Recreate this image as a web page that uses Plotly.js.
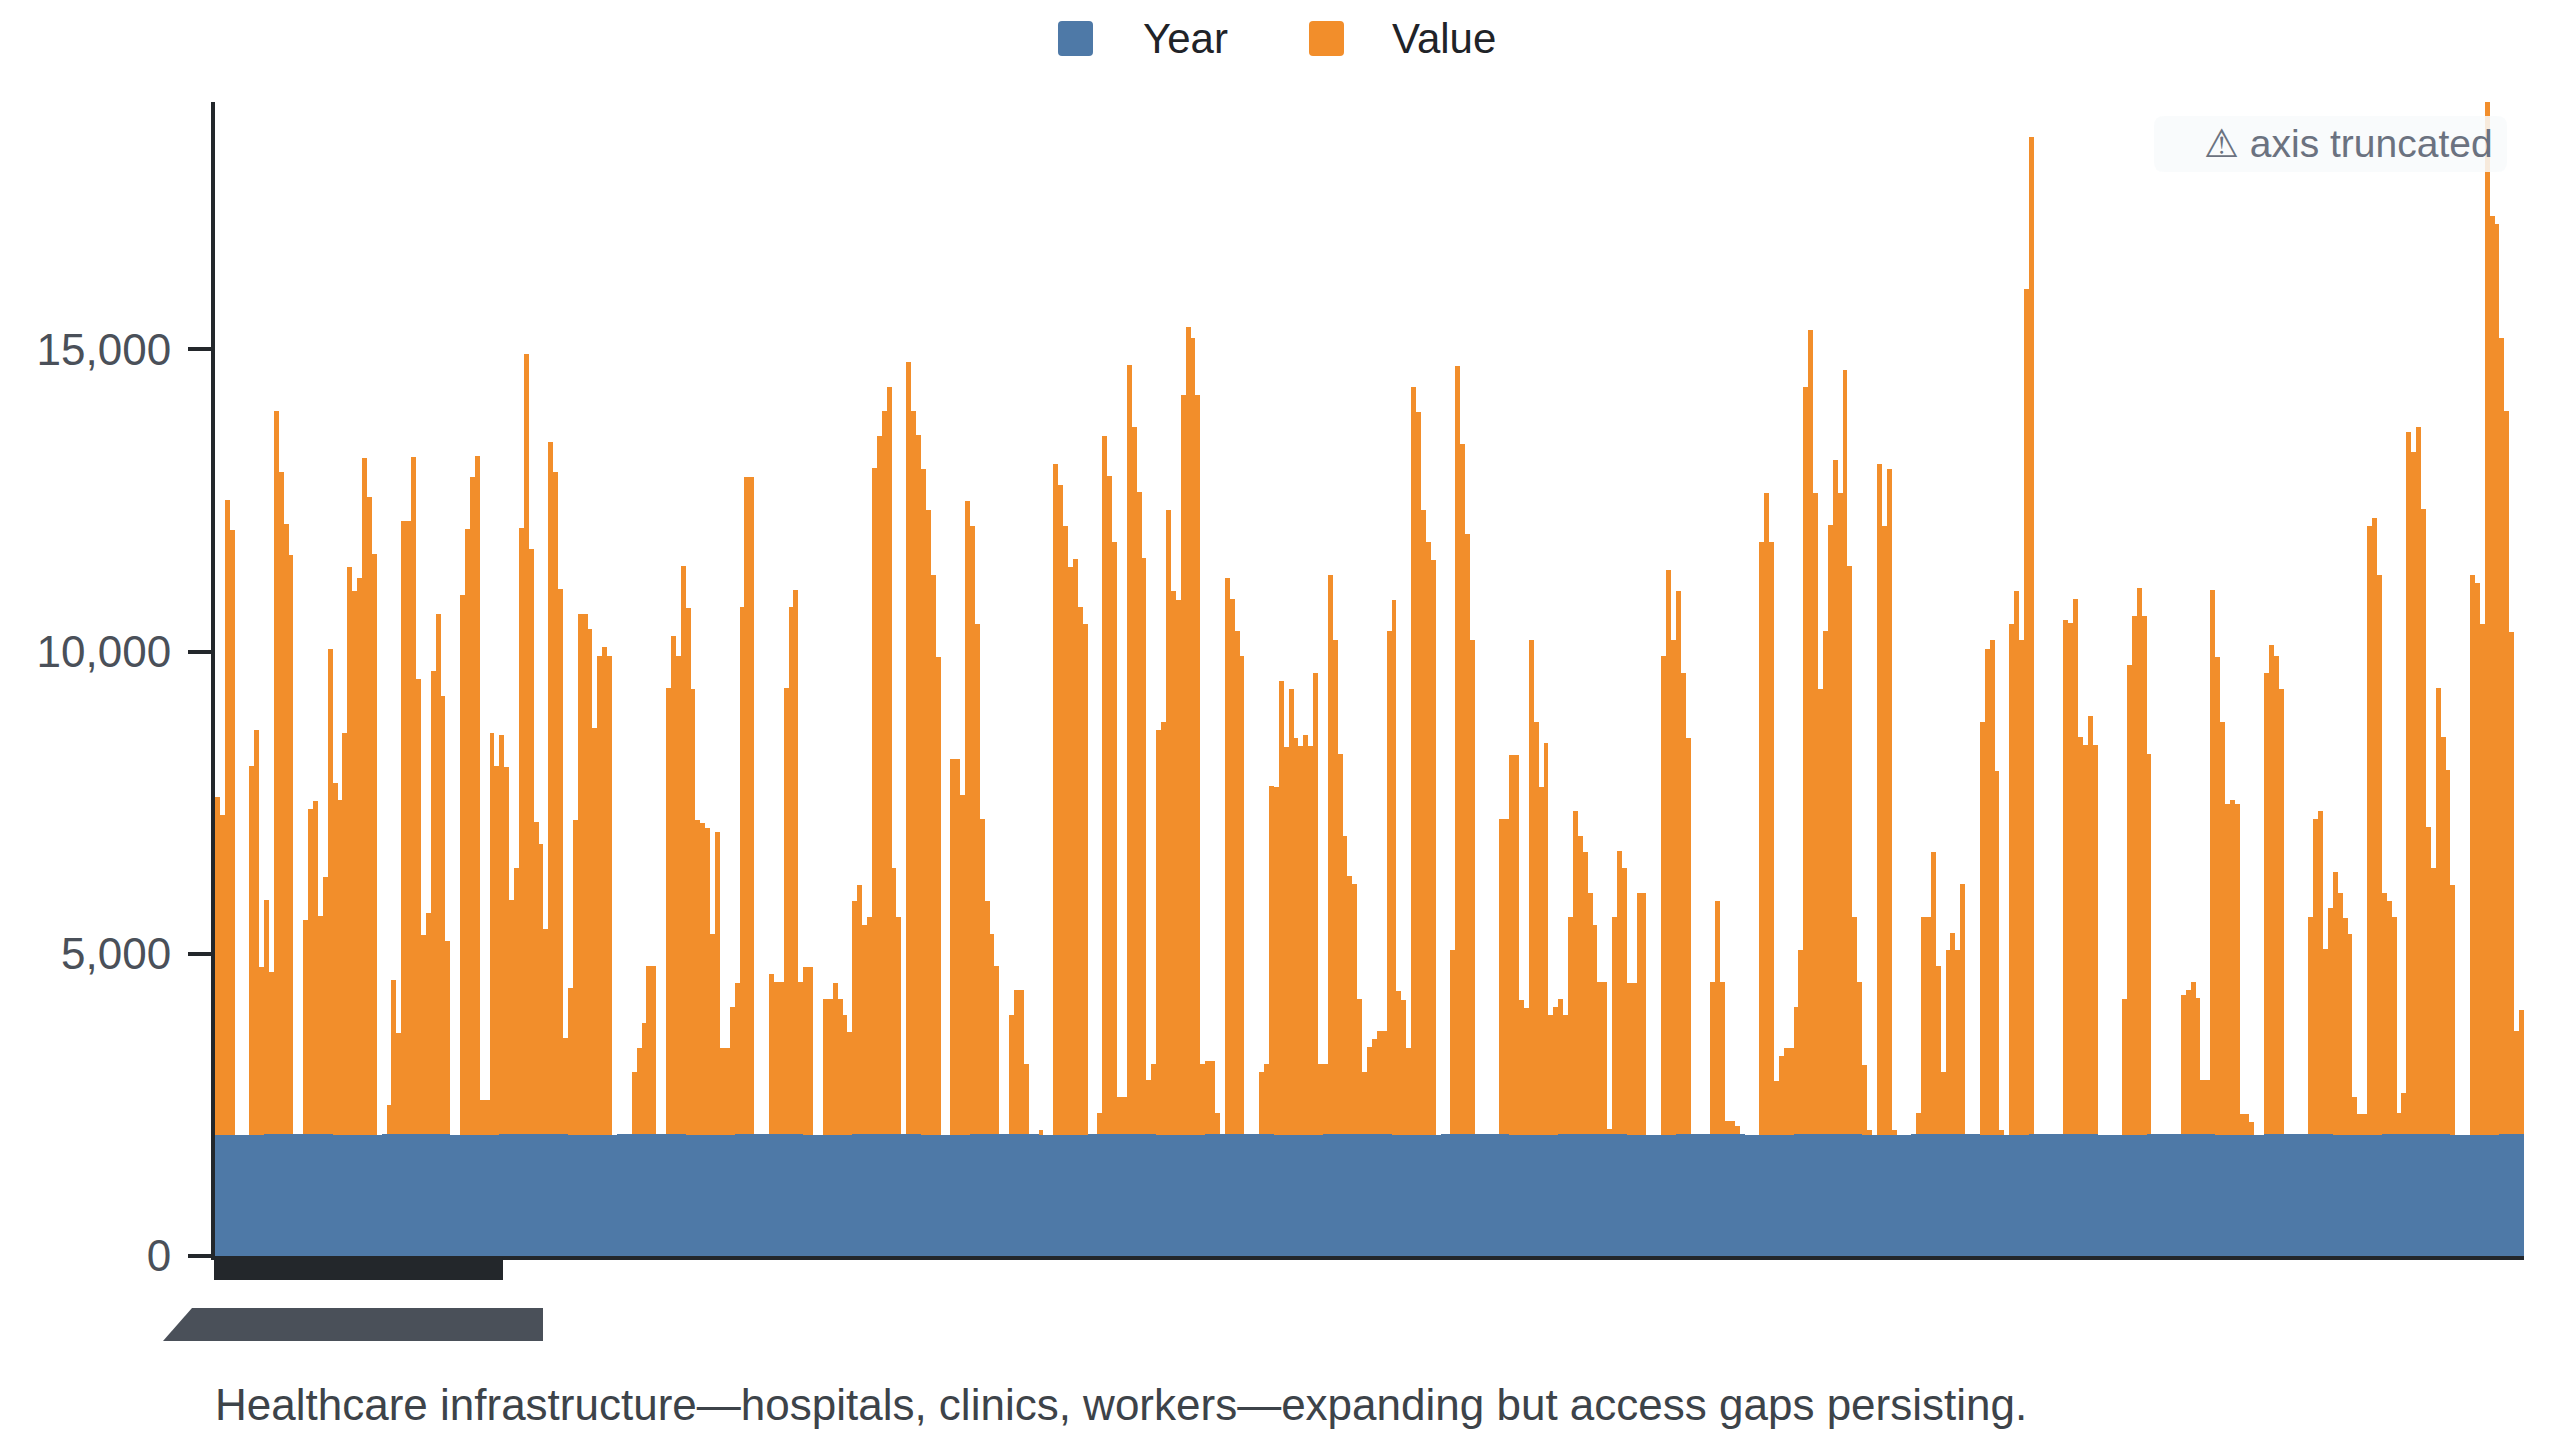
<!DOCTYPE html>
<html><head><meta charset="utf-8">
<script src="https://cdn.plot.ly/plotly-3.0.1.min.js"></script>
<style>html,body{margin:0;padding:0;background:#fff;}#chart{width:2560px;height:1440px;}</style>
</head><body><div id="chart"></div>
<script>
const valueSeries = [
5600,5300,10500,10000,0,0,0,6100,6700,2765,
3879,2680,11965,10952,10091,9585,0,0,3541,5381,
5500,3609,4242,8023,5820,5550,6647,9390,9000,9205,
11188,10547,9601,0,0,486,2554,1668,10150,10150,
11205,7534,3288,3651,7660,8606,7240,3187,0,0,
8926,10023,10884,11222,571,571,6647,6099,6605,6073,
3879,4411,10023,12906,9686,5170,4791,3398,11441,10952,
9011,1584,2428,5213,8614,8614,8361,6732,7913,8065,
7911,0,0,0,0,1026,1431,1836,2781,2781,
0,0,7371,8235,7911,9396,8721,7371,5211,5157,
5076,3321,5000,1431,1431,2106,2511,8721,10881,10881,
0,0,0,2646,2511,2511,7371,8721,8991,2511,
2781,2781,0,0,2241,2241,2511,2241,1971,1701,
3861,4131,3456,3591,11016,11556,11961,12366,4401,3591,
0,12771,11961,11556,11016,10341,9261,7911,0,0,
6210,6210,5616,10476,10071,8451,5211,3861,3321,2781,
0,0,1971,2376,2376,1161,0,0,81,0,
0,11097,10746,10071,9396,9531,8721,8451,0,0,
351,11556,10881,9801,621,621,12717,11691,10611,9531,
891,1161,6696,6831,10341,8991,8856,12231,13365,13176,
12231,1161,1215,1215,351,0,9207,8856,8316,7911,
0,0,0,1026,1161,5751,5751,7506,6426,7371,
6561,6426,6615,6426,7641,1161,1161,9261,8181,6291,
4941,4266,4131,2241,1026,1431,1566,1701,1701,8316,
8856,2376,2241,1431,12366,11961,10341,9801,9500,0,
0,0,3051,12717,11421,9936,8181,0,0,0,
0,0,5211,5211,6291,6291,2241,2106,8181,6831,
5751,6480,1971,2106,2241,1971,3591,5346,4941,4671,
3996,3456,2511,2511,81,3591,4671,4401,2511,2511,
3996,3996,0,0,0,7911,9342,8181,8991,7641,
6561,0,0,0,0,2511,3861,2511,216,216,
135,0,0,0,0,9801,10611,9801,891,1296,
1431,1431,2106,3051,12366,13311,10611,7371,8316,10071,
11151,10611,12636,9396,3591,2511,1161,81,0,11097,
10071,11016,81,0,0,0,0,351,3591,3591,
4671,2781,1026,3051,3321,3051,4131,0,0,0,
6831,8046,8181,6021,81,0,8451,8991,8181,13986,
16497,0,0,0,0,0,0,8505,8451,8856,
6561,6426,6912,6426,0,0,0,0,0,2241,
7776,8586,9045,8586,6291,0,0,0,0,0,
0,2295,2376,2511,2241,891,891,8991,7911,6831,
5481,5535,5481,351,351,216,0,0,7641,8100,
7911,7371,0,0,0,0,0,3591,5211,5346,
3051,3726,4347,3996,3591,3321,621,351,351,10071,
10206,9261,3996,3861,3591,351,675,11610,11286,11691,
10341,5076,4401,7371,6561,6021,4131,0,0,0,
9261,9126,8451,17500,15201,15066,13176,11961,8316,1701,
2052
];
const yearSeries = [
2000,2001,2002,2003,2004,2005,2006,2007,2008,2009,2010,2011,2012,2013,2014,2015,2016,2017,2018,2019,2020,2021,2022,2023,
2000,2001,2002,2003,2004,2005,2006,2007,2008,2009,2010,2011,2012,2013,2014,2015,2016,2017,2018,2019,2020,2021,2022,2023,
2000,2001,2002,2003,2004,2005,2006,2007,2008,2009,2010,2011,2012,2013,2014,2015,2016,2017,2018,2019,2020,2021,2022,2023,
2000,2001,2002,2003,2004,2005,2006,2007,2008,2009,2010,2011,2012,2013,2014,2015,2016,2017,2018,2019,2020,2021,2022,2023,
2000,2001,2002,2003,2004,2005,2006,2007,2008,2009,2010,2011,2012,2013,2014,2015,2016,2017,2018,2019,2020,2021,2022,2023,
2000,2001,2002,2003,2004,2005,2006,2007,2008,2009,2010,2011,2012,2013,2014,2015,2016,2017,2018,2019,2020,2021,2022,2023,
2000,2001,2002,2003,2004,2005,2006,2007,2008,2009,2010,2011,2012,2013,2014,2015,2016,2017,2018,2019,2020,2021,2022,2023,
2000,2001,2002,2003,2004,2005,2006,2007,2008,2009,2010,2011,2012,2013,2014,2015,2016,2017,2018,2019,2020,2021,2022,2023,
2000,2001,2002,2003,2004,2005,2006,2007,2008,2009,2010,2011,2012,2013,2014,2015,2016,2017,2018,2019,2020,2021,2022,2023,
2000,2001,2002,2003,2004,2005,2006,2007,2008,2009,2010,2011,2012,2013,2014,2015,2016,2017,2018,2019,2020,2021,2022,2023,
2000,2001,2002,2003,2004,2005,2006,2007,2008,2009,2010,2011,2012,2013,2014,2015,2016,2017,2018,2019,2020,2021,2022,2023,
2000,2001,2002,2003,2004,2005,2006,2007,2008,2009,2010,2011,2012,2013,2014,2015,2016,2017,2018,2019,2020,2021,2022,2023,
2000,2001,2002,2003,2004,2005,2006,2007,2008,2009,2010,2011,2012,2013,2014,2015,2016,2017,2018,2019,2020,2021,2022,2023,
2000,2001,2002,2003,2004,2005,2006,2007,2008,2009,2010,2011,2012,2013,2014,2015,2016,2017,2018,2019,2020,2021,2022,2023,
2000,2001,2002,2003,2004,2005,2006,2007,2008,2009,2010,2011,2012,2013,2014,2015,2016,2017,2018,2019,2020,2021,2022,2023,
2000,2001,2002,2003,2004,2005,2006,2007,2008,2009,2010,2011,2012,2013,2014,2015,2016,2017,2018,2019,2020,2021,2022,2023,
2000,2001,2002,2003,2004,2005,2006,2007,2008,2009,2010,2011,2012,2013,2014,2015,2016,2017,2018,2019,2020,2021,2022,2023,
2000,2001,2002,2003,2004,2005,2006,2007,2008,2009,2010,2011,2012,2013,2014,2015,2016,2017,2018,2019,2020,2021,2022,2023,
2000,2001,2002,2003,2004,2005,2006,2007,2008,2009,2010,2011,2012,2013,2014,2015,2016,2017,2018,2019,2020,2021,2022,2023,
2000,2001,2002,2003,2004,2005,2006,2007,2008,2009,2010,2011,2012,2013,2014
];
const categories = valueSeries.map((_, i) => 'Row ' + (i + 1));
const seriesNames = ['Year', 'Value'];
const seriesColors = ['#4e79a7', '#f28e2b'];
const yTickValues = [0, 5000, 10000, 15000];
const yMax = 19090;
const captionText = 'Healthcare infrastructure\u2014hospitals, clinics, workers\u2014expanding but access gaps persisting.';
const badgeText = '\u26A0 axis truncated';

const FONT = 'Liberation Sans, Arial, Helvetica, sans-serif';
const W = 2560, H = 1440, M = {l: 215, r: 36, t: 102, b: 184};
const px = x => (x - M.l) / (W - M.l - M.r);
const py = y => (H - M.b - y) / (H - M.t - M.b);
function rr(x0, y0, x1, y1, r) {
  const P = (x, y) => px(x).toFixed(6) + ',' + py(y).toFixed(6);
  return 'M' + P(x0 + r, y0) + ' L' + P(x1 - r, y0) + ' Q' + P(x1, y0) + ' ' + P(x1, y0 + r) +
    ' L' + P(x1, y1 - r) + ' Q' + P(x1, y1) + ' ' + P(x1 - r, y1) +
    ' L' + P(x0 + r, y1) + ' Q' + P(x0, y1) + ' ' + P(x0, y1 - r) +
    ' L' + P(x0, y0 + r) + ' Q' + P(x0, y0) + ' ' + P(x0 + r, y0) + ' Z';
}
function poly(pts) {
  return 'M' + pts.map(p => px(p[0]).toFixed(6) + ',' + py(p[1]).toFixed(6)).join(' L') + ' Z';
}

const traces = [
  {type: 'bar', name: seriesNames[0], x: categories, y: yearSeries,
   marker: {color: seriesColors[0], line: {width: 0}}},
  {type: 'bar', name: seriesNames[1], x: categories, y: valueSeries,
   marker: {color: seriesColors[1], line: {width: 0}}}
];

const layout = {
  width: W, height: H,
  margin: M,
  paper_bgcolor: '#ffffff', plot_bgcolor: '#ffffff',
  barmode: 'stack', bargap: 0,
  showlegend: false,
  font: {family: FONT, color: '#1f2328'},
  xaxis: {type: 'category', showline: true, linecolor: '#23272b', linewidth: 4,
    showticklabels: false, ticks: '', showgrid: false, zeroline: false},
  yaxis: {range: [0, yMax], showline: true, linecolor: '#23272b', linewidth: 4,
    ticks: 'outside', ticklen: 23, tickwidth: 4, tickcolor: '#23272b',
    tickvals: yTickValues, tickformat: ',d', ticklabelstandoff: 8,
    tickfont: {family: FONT, size: 44, color: '#4a5059'},
    showgrid: false, zeroline: false},
  shapes: [
    {type: 'path', xref: 'paper', yref: 'paper', path: poly([[214,1257],[503,1257],[503,1280],[214,1280]]),
     fillcolor: '#23272b', line: {width: 0}},
    {type: 'path', xref: 'paper', yref: 'paper', path: poly([[192,1308],[543,1308],[543,1341],[163,1341]]),
     fillcolor: '#4a5059', line: {width: 0}},
    {type: 'path', xref: 'paper', yref: 'paper', path: rr(1058, 21, 1093, 56, 4),
     fillcolor: seriesColors[0], line: {width: 0}},
    {type: 'path', xref: 'paper', yref: 'paper', path: rr(1309, 21, 1344, 56, 4),
     fillcolor: seriesColors[1], line: {width: 0}},
    {type: 'path', xref: 'paper', yref: 'paper', layer: 'above', path: rr(2154, 116, 2507, 172, 10),
     fillcolor: 'rgba(248,250,252,0.85)', line: {width: 0}}
  ],
  annotations: [
    {xref: 'paper', yref: 'paper', x: px(1141), y: py(38), xanchor: 'left', yanchor: 'middle',
     text: seriesNames[0], showarrow: false, font: {family: FONT, size: 42, color: '#1f2328'}},
    {xref: 'paper', yref: 'paper', x: px(1390), y: py(38), xanchor: 'left', yanchor: 'middle',
     text: seriesNames[1], showarrow: false, font: {family: FONT, size: 42, color: '#1f2328'}},
    {xref: 'paper', yref: 'paper', x: px(2495), y: py(143), xanchor: 'right', yanchor: 'middle',
     text: badgeText, showarrow: false, font: {family: FONT, size: 39, color: '#6b7280'}},
    {xref: 'paper', yref: 'paper', x: px(213), y: py(1404), xanchor: 'left', yanchor: 'middle',
     text: captionText, showarrow: false, font: {family: FONT, size: 44, color: '#3d4349'}}
  ]
};

Plotly.newPlot('chart', traces, layout, {staticPlot: true, responsive: false, displayModeBar: false});
</script>
</body></html>
